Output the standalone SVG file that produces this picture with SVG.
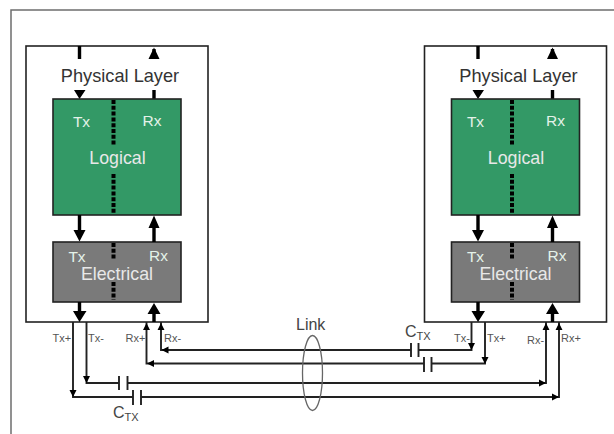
<svg xmlns="http://www.w3.org/2000/svg" width="614" height="434" viewBox="0 0 614 434">
<style>
text{font-family:"Liberation Sans",Arial,sans-serif}
.frame{fill:none;stroke:#6e6e6e;stroke-width:1.5}
.box{fill:#fff;stroke:#222;stroke-width:1.6}
.logical{fill:#339966;stroke:#222;stroke-width:1.6}
.electrical{fill:#7a7a7a;stroke:#222;stroke-width:1.6}
.dots{stroke:#000;stroke-width:4;stroke-dasharray:4 1.800;fill:none}
.bus{stroke:#000;stroke-width:3.400;fill:none}
.wire{stroke:#222;stroke-width:1.900;fill:none}
.cap{stroke:#222;stroke-width:1.900;fill:none}
.head{fill:#000}
.wl{fill:#e4f2e9;font-size:15.500px}
.wl2{fill:#e8e8e8;font-size:17.800px}
.title{fill:#333;font-size:18.200px}
.sig{fill:#555;font-size:11px}
.lbl{fill:#444;font-size:16px}
.sub{fill:#444;font-size:11px}
</style>
<defs>
<g id="layer">
<rect class="box" x="0" y="0" width="182" height="276"/>
<text class="title" x="94" y="35.500" text-anchor="middle">Physical Layer</text>
<path class="bus" d="M53.500 0V13M128 3V13M128 44V53"/>
<path class="head" d="M48 44H59.500L53.500 53ZM122.500 13L128 1.500L133.500 13Z"/>
<rect class="logical" x="27" y="53" width="128" height="116"/>
<rect class="electrical" x="27" y="196" width="128" height="60"/>
<path class="dots" d="M87.500 54V99M87.500 128V168M87.500 197V213M87.500 236V254"/>
<path class="bus" d="M53.500 169V186M128 181V196M53.500 256V268M128 268V276"/>
<path class="head" d="M47.500 184H59.500L53.500 195.500ZM122.500 182L128 169.500L133.500 182ZM47 265H60.500L53.500 276ZM121.500 268L128 257L134.500 268Z"/>
<text class="wl2" x="91.500" y="118" text-anchor="middle">Logical</text>
<text class="wl" x="51" y="215.500" text-anchor="middle">Tx</text>
<text class="wl" x="132.500" y="215" text-anchor="middle">Rx</text>
<text class="wl2" x="91" y="234" text-anchor="middle">Electrical</text>
</g>
</defs>
<path class="frame" d="M11 434V10H614"/>
<g id="left-physical-layer"><use href="#layer" x="26" y="46"/>
<text class="wl" x="81.500" y="126.500" text-anchor="middle">Tx</text>
<text class="wl" x="152" y="126" text-anchor="middle">Rx</text></g>
<g id="right-physical-layer"><use href="#layer" x="424.500" y="46"/>
<text class="wl" x="475.500" y="126.500" text-anchor="middle">Tx</text>
<text class="wl" x="555.500" y="126" text-anchor="middle">Rx</text></g>
<g id="connectors">
<path class="wire" d="M73 322V397H133M141 397H559V322"/>
<path class="wire" d="M86.500 322V383H119M127.500 383H546V322"/>
<path class="wire" d="M146.500 322V363.500H424M431.500 363.500H485V322"/>
<path class="wire" d="M161 322V350H411M418.500 350H471.500V322"/>
<path class="cap" d="M119 376V390M127.500 376V390M133 390V405M141 390V405M411 343V357M418.500 343V357M424 357V372M431.500 357V372"/>
<path class="head" d="M69.500 390H76.500L73 397ZM83 376H90L86.500 383ZM468 343H475L471.500 350ZM481.500 357H488.500L485 364Z"/>
<path class="head" d="M143 330L146.500 323L150 330ZM157.500 330L161 323L164.500 330ZM542.500 330L546 323L549.500 330ZM555.500 330L559 323L562.500 330Z"/>
<path class="head" d="M147 363.500L154 360V367ZM161.500 350L168.500 346.500V353.500ZM546 383L539 379.500V386.500ZM559 397L552 393.500V400.500Z"/>
<ellipse cx="312.500" cy="373" rx="10" ry="37.500" fill="none" stroke="#666" stroke-width="1.300"/>
</g>
<g id="labels">
<text class="sig" x="52.500" y="342">Tx+</text>
<text class="sig" x="88" y="342">Tx-</text>
<text class="sig" x="125.500" y="342">Rx+</text>
<text class="sig" x="164" y="342">Rx-</text>
<text class="sig" x="454" y="342">Tx-</text>
<text class="sig" x="487" y="342">Tx+</text>
<text class="sig" x="527" y="344">Rx-</text>
<text class="sig" x="561" y="342">Rx+</text>
<text class="lbl" x="296" y="330">Link</text>
<text class="lbl" x="405" y="337">C<tspan class="sub" dy="3">TX</tspan></text>
<text class="lbl" x="113" y="418">C<tspan class="sub" dy="3">TX</tspan></text>
</g>
</svg>
